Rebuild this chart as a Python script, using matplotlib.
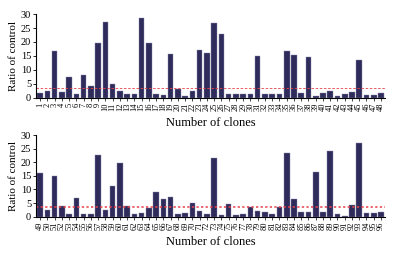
import numpy as np
import matplotlib.pyplot as plt

# Datos: ratio frente al control para cada clon
clones_top = list(range(1, 49))
ratio_top = [1.8, 2.6, 16.8, 2.1, 7.3, 1.2, 8.3, 4.4, 19.5, 27.0,
             4.9, 2.6, 1.2, 1.2, 28.6, 19.6, 1.2, 1.0, 15.8, 3.2,
             0.8, 2.6, 17.2, 16.0, 26.9, 22.7, 1.2, 1.2, 1.2, 1.2,
             14.8, 1.2, 1.2, 1.2, 16.6, 15.2, 1.8, 14.6, 0.8, 1.8,
             2.3, 0.8, 1.2, 2.2, 13.6, 1.1, 1.1, 1.8]

clones_bottom = list(range(49, 97))
ratio_bottom = [16.0, 2.5, 15.1, 4.0, 1.0, 6.9, 1.0, 1.0, 22.8, 2.6,
                11.4, 19.8, 4.0, 1.0, 1.5, 3.1, 9.1, 6.4, 7.3, 0.9,
                1.4, 5.1, 2.1, 1.1, 21.6, 0.7, 4.8, 0.5, 1.0, 3.7,
                2.1, 1.9, 0.9, 3.6, 23.5, 6.5, 1.7, 1.7, 16.3, 1.6,
                24.2, 0.9, 0.4, 4.2, 26.9, 1.2, 1.2, 1.7]

threshold = 3.4

plt.rcParams['font.family'] = ['Liberation Serif', 'DejaVu Serif']

fig = plt.figure(figsize=(4.01, 2.56), dpi=100)
ax1 = fig.add_axes([0.09, 0.618, 0.87, 0.327])
ax2 = fig.add_axes([0.09, 0.1535, 0.87, 0.319])

bar_color = '#2f2c5c'


def draw_panel(ax, clones, ratios, line_style, line_width):
    pos = np.arange(1, len(clones) + 1)
    ax.bar(pos, ratios, width=0.78, color=bar_color, edgecolor='#8a89a8', linewidth=0.3)
    ax.axhline(threshold, color='#e8404a', linestyle=line_style, linewidth=line_width)

    ax.set_xlim(0.45, len(clones) + 0.55)
    ax.set_ylim(0, 30)
    ax.set_yticks(np.arange(0, 31, 5))
    ax.set_xticks(pos)
    ax.set_xticklabels([str(c) for c in clones], rotation=90, fontsize=6)

    ax.tick_params(axis='y', labelsize=7.5, length=2.5, width=0.6, pad=1)
    ax.tick_params(axis='x', length=2, width=0.5, pad=1.5)

    for side in ['top', 'right']:
        ax.spines[side].set_visible(False)
    ax.spines['left'].set_linewidth(0.8)
    ax.spines['bottom'].set_linewidth(0.8)

    ax.set_ylabel('Ratio of control', fontsize=8, labelpad=2)
    ax.set_xlabel('Number of clones', fontsize=9, labelpad=4)


draw_panel(ax1, clones_top, ratio_top, (0, (3, 2)), 0.6)
draw_panel(ax2, clones_bottom, ratio_bottom, (0, (1.5, 1.5)), 1.1)

fig.savefig('out.png', dpi=100)
